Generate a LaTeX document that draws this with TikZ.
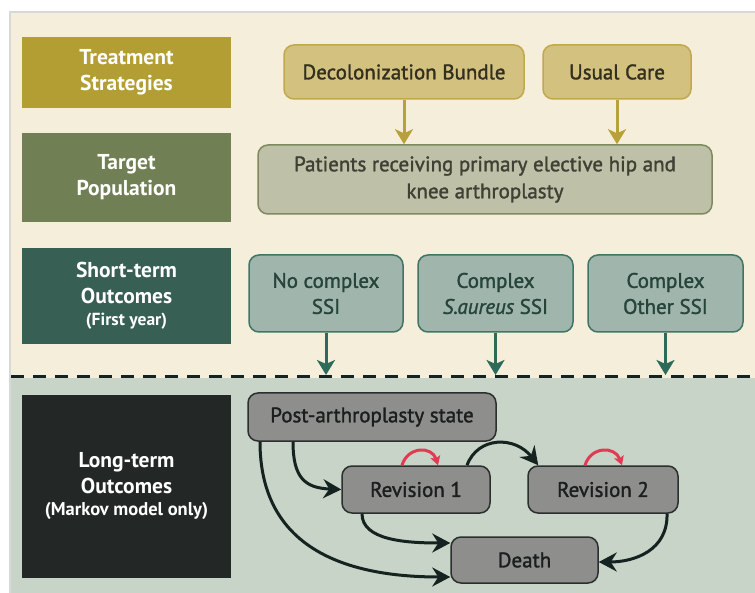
\documentclass[tikz,border=0pt]{standalone}
\usepackage{fontspec}
\setmainfont{PT Sans}
\newfontfamily\medfont{PT Sans}[FakeBold=1.5]
\usetikzlibrary{arrows.meta,calc}
\definecolor{cream}{HTML}{F5EEDA}
\definecolor{greenbg}{HTML}{C8D4C8}
\definecolor{framegray}{HTML}{D8D8D8}
\definecolor{goldlab}{HTML}{B39E34}
\definecolor{goldfill}{HTML}{D3C27F}
\definecolor{golddraw}{HTML}{C2A84A}
\definecolor{goldarrow}{HTML}{B8A03A}
\definecolor{darktext}{HTML}{332F1F}
\definecolor{targetlab}{HTML}{717F54}
\definecolor{targetfill}{HTML}{BEC1A8}
\definecolor{targetdraw}{HTML}{7D8A60}
\definecolor{targettext}{HTML}{3F4134}
\definecolor{shortlab}{HTML}{375F53}
\definecolor{outfill}{HTML}{A0B5AB}
\definecolor{outdraw}{HTML}{3F7566}
\definecolor{outtext}{HTML}{26443C}
\definecolor{tealarrow}{HTML}{2E6A5A}
\definecolor{longlab}{HTML}{232826}
\definecolor{graynode}{HTML}{8E8E8C}
\definecolor{graydraw}{HTML}{2B2F2D}
\definecolor{graytext}{HTML}{1A1F1E}
\definecolor{loopred}{HTML}{E23A52}
\definecolor{blackarrow}{HTML}{142320}
\begin{document}
\begin{tikzpicture}[x=1pt,y=-1pt,
  labelbox/.style={minimum width=209pt, inner sep=0pt, text=white, align=center,
    font=\bfseries\fontsize{21.5}{26}\selectfont},
  stratbox/.style={draw=golddraw, line width=1.5pt, fill=goldfill, rounded corners=10pt,
    inner sep=0pt, text=darktext, font=\medfont\fontsize{21}{26}\selectfont, minimum height=54pt},
  outbox/.style={draw=outdraw, line width=1.5pt, fill=outfill, rounded corners=10pt,
    inner sep=0pt, text=outtext, align=center, font=\medfont\fontsize{21}{26}\selectfont,
    minimum width=155pt, minimum height=77pt},
  statebox/.style={draw=graydraw, line width=1.5pt, fill=graynode, rounded corners=10pt,
    inner sep=0pt, text=graytext, font=\medfont\fontsize{21}{26}\selectfont, minimum height=47pt},
  goldarr/.style={draw=goldarrow, line width=3pt, -{Stealth[length=15pt,width=18pt,inset=4pt]}},
  tealarr/.style={draw=tealarrow, line width=3pt, -{Stealth[length=15pt,width=18pt,inset=4pt]}},
  blackarr/.style={draw=blackarrow, line width=3pt, -{Stealth[length=18pt,width=19pt,inset=6pt]}},
  redarr/.style={draw=loopred, line width=3pt, -{Stealth[length=9pt,width=10pt,inset=2pt]}}
]
\useasboundingbox (0,0) rectangle (755,593);
% background
\fill[white] (0,0) rectangle (755,593);
\fill[framegray] (9,11) rectangle (755,593);
\fill[cream] (11,13) rectangle (755,378);
\fill[greenbg] (11,378) rectangle (755,593);
\coordinate (dl) at (11,377);
\coordinate (dr) at (755,377);
\draw[blackarrow, line width=3pt, dash pattern=on 13pt off 9pt] (dl) -- (dr);

% left labels
\node[labelbox, fill=goldlab, minimum height=71pt] (lab1) at (126.5,72.5) {Treatment\\Strategies};
\node[labelbox, fill=targetlab, minimum height=89pt] (lab2) at (126.5,177.5) {Target\\Population};
\node[labelbox, fill=shortlab, minimum height=96pt] (lab3) at (126.5,296) {Short-term\\Outcomes\\[-4pt]{\fontsize{17.5}{20}\selectfont (First year)}};
\node[labelbox, fill=longlab, minimum height=183pt] (lab4) at (126.5,486.5) {Long-term\\Outcomes\\[-4pt]{\fontsize{18.5}{20}\selectfont (Markov model only)}};

% strategies
\node[stratbox, minimum width=240pt] (decol) at (404,72) {Decolonization Bundle};
\node[stratbox, minimum width=148pt] (usual) at (617,72) {Usual Care};

% target population
\node[draw=targetdraw, line width=1.5pt, fill=targetfill, rounded corners=10pt, inner sep=0pt,
  minimum width=454pt, minimum height=69pt, text=targettext, align=center,
  font=\medfont\fontsize{21}{27}\selectfont] (target) at (485,179.5)
  {Patients receiving primary elective hip and\\knee arthroplasty};

\draw[goldarr] (decol.south) -- (decol.south |- target.north);
\draw[goldarr] (usual.south) -- (usual.south |- target.north);

% short-term outcomes
\node[outbox, minimum width=154pt] (nossi) at (326,293.5) {No complex\\SSI};
\node[outbox] (saureus) at (495.5,293.5) {Complex\\\textit{S.aureus} SSI};
\node[outbox] (other) at (665.5,293.5) {Complex\\Other SSI};

\coordinate (e1) at (326,375);
\coordinate (e2) at (495.5,375);
\coordinate (e3) at (665.5,375);
\draw[tealarr] (nossi.south) -- (e1);
\draw[tealarr] (saureus.south) -- (e2);
\draw[tealarr] (other.south) -- (e3);

% Markov states
\node[statebox, minimum width=248pt, minimum height=48pt] (post) at (372,417) {Post-arthroplasty state};
\node[statebox, minimum width=148pt] (rev1) at (416,489.5) {Revision 1};
\node[statebox, minimum width=150pt] (rev2) at (603,489.5) {Revision 2};
\node[statebox, minimum width=147pt, minimum height=46pt] (death) at (524.5,560) {Death};

\draw[blackarr] ($(post.south)+(-79,0)$) .. controls (293,478) and (305,488) .. (rev1.west);
\draw[blackarr] ($(post.south)+(-112,0)$) .. controls (260,548) and (345,577) .. ($(death.west)+(0,17)$);
\draw[blackarr] ($(rev1.south)+(-54,0)$) .. controls (362,540) and (405,543) .. ($(death.west)+(0,-17)$);
\draw[blackarr] ($(rev1.north)+(51,0)$) .. controls (478,436) and (515,436) .. ($(rev2.north west)+(11,0)$);
\draw[blackarr] ($(rev2.south)+(64,0)$) .. controls (668,550) and (635,562) .. ($(death.east)+(0,2)$);

\draw[redarr] ($(rev1.north)+(-14,0)$) .. controls (408,446) and (432,446) .. ($(rev1.north)+(22,0)$);
\draw[redarr] ($(rev2.north)+(-18,0)$) .. controls (591,446) and (615,446) .. ($(rev2.north)+(19,0)$);
\end{tikzpicture}
\end{document}
